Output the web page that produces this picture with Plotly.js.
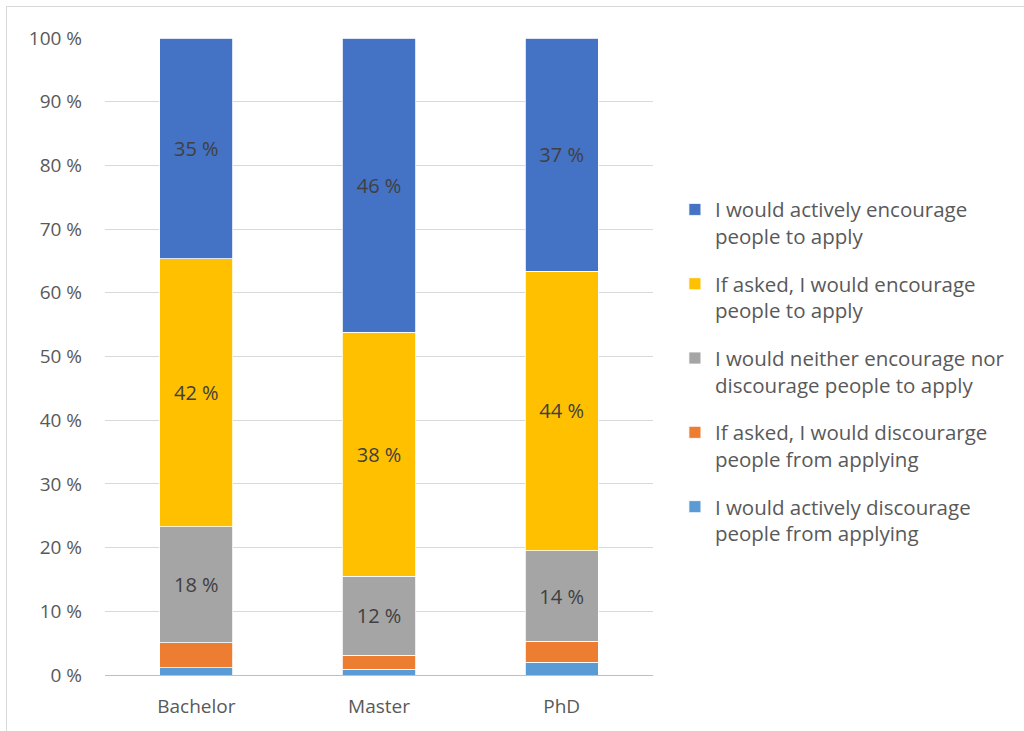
<!DOCTYPE html>
<html><head><meta charset="utf-8">
<script src="https://cdn.plot.ly/plotly-3.0.1.min.js"></script>
<style>
body{margin:0;background:#fff;}
#frame{position:absolute;left:6px;top:6px;width:1030px;height:740px;border:1px solid #d9d9d9;box-sizing:border-box;}
#chart{position:absolute;left:0;top:0;width:1024px;height:731px;}
</style></head>
<body><div id="frame"></div><div id="chart"></div>
<script>
const categories = ["Bachelor", "Master", "PhD"];
const seriesNames = [
  "I would actively discourage<br>people from applying",
  "If asked, I would discourarge<br>people from applying",
  "I would neither encourage nor<br>discourage people to apply",
  "If asked, I would encourage<br>people to apply",
  "I would actively encourage<br>people to apply"
];
const activelyDiscourage = [1.15, 0.9, 2.0];
const askedDiscourage = [3.9, 2.2, 3.3];
const neither = [18.2, 12.4, 14.2];
const askedEncourage = [42.1, 38.3, 43.9];
const activelyEncourage = [34.65, 46.2, 36.6];
const labelsNeither = ["18 %", "12 %", "14 %"];
const labelsAskedEncourage = ["42 %", "38 %", "44 %"];
const labelsActivelyEncourage = ["35 %", "46 %", "37 %"];
const colors = ["#5b9bd5", "#ed7d31", "#a5a5a5", "#ffc000", "#4472c4"];
const yTicks = [0,10,20,30,40,50,60,70,80,90,100];
const yTickText = yTicks.map(v => v + " %");

const values = [activelyDiscourage, askedDiscourage, neither, askedEncourage, activelyEncourage];
const labels = [null, null, labelsNeither, labelsAskedEncourage, labelsActivelyEncourage];
const FONT = "Open Sans, Liberation Sans, sans-serif";

const traces = values.map((v, i) => ({
  type: "bar",
  x: categories,
  y: v,
  name: seriesNames[i],
  legendgroup: "g" + i,
  legendrank: 5 - i,
  marker: {color: colors[i], line: {color: "#ffffff", width: 0.8}},
  text: labels[i] || undefined,
  texttemplate: labels[i] ? "%{text}" : "",
  textposition: labels[i] ? "inside" : "none",
  insidetextanchor: "middle",
  textfont: {family: FONT, size: 20, color: "#404040"},
  hoverinfo: "none"
}));

const layout = {
  width: 1024, height: 731,
  paper_bgcolor: "rgba(0,0,0,0)",
  plot_bgcolor: "rgba(0,0,0,0)",
  barmode: "stack",
  bargap: 0.6,
  margin: {l: 105, r: 371, t: 38, b: 56},
  font: {family: FONT, color: "#595959", size: 19},
  xaxis: {
    tickfont: {size: 19, color: "#595959"},
    showline: true, linecolor: "#bfbfbf", linewidth: 1,
    ticks: "", showgrid: false,
    ticklabelstandoff: 14
  },
  yaxis: {
    range: [0, 100],
    tickvals: yTicks, ticktext: yTickText,
    tickfont: {size: 19, color: "#595959"},
    gridcolor: "#d9d9d9", gridwidth: 1,
    zeroline: false, showline: false, ticks: "", ticklen: 0,
    ticklabelstandoff: 22,
    fixedrange: true
  },
  showlegend: true,
  legend: {
    x: 1.04, xanchor: "left", y: 0.762, yanchor: "top",
    traceorder: "grouped",
    tracegroupgap: 18,
    valign: "top",
    font: {size: 20.5, color: "#595959"},
    itemwidth: 30,
    bgcolor: "rgba(0,0,0,0)"
  }
};

Plotly.newPlot("chart", traces, layout, {displayModeBar: false, staticPlot: true});
</script>
</body></html>
